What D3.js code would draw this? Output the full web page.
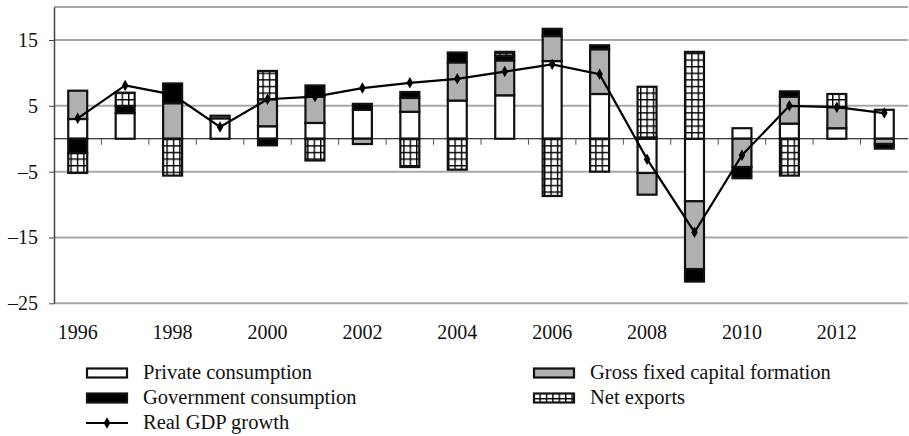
<!DOCTYPE html>
<html><head><meta charset="utf-8">
<script src="https://cdn.jsdelivr.net/npm/d3@7/dist/d3.min.js"></script>
<style>body{margin:0;background:#fff}svg{display:block}</style>
</head><body><svg id="c" width="909" height="436"></svg>
<script>
const years = [1996,1997,1998,1999,2000,2001,2002,2003,2004,2005,2006,2007,2008,2009,2010,2011,2012,2013];
const privateConsumption = [3.0,3.9,0,3.1,1.9,2.4,4.4,4.1,5.8,6.6,11.8,6.8,-5.2,-9.5,1.6,2.3,1.6,4.4];
const grossFixedCapital = [4.3,0,5.4,0.4,4.1,4.0,-0.8,2.1,5.8,5.3,3.8,6.8,-3.3,-10.3,-4.3,4.1,3.2,-0.8];
const governmentConsumption = [-2.2,1.1,3.0,0,-1.0,1.7,0.9,0.9,1.5,0.7,1.1,0.6,0.2,-1.9,-1.7,0.8,0,-0.7];
const netExports = [-3.0,2.0,-5.6,0,4.3,-3.3,0,-4.3,-4.7,0.6,-8.7,-5.0,7.7,13.2,0,-5.6,2.0,0];
const realGdpGrowth = [3.1,8.1,6.7,1.8,6.0,6.4,7.7,8.5,9.1,10.2,11.3,9.8,-3.1,-14.2,-2.5,5.0,4.8,3.9];
const yTicks = [-25,-15,-5,5,15];
const xLabelYears = [1996,1998,2000,2002,2004,2006,2008,2010,2012];
const seriesNames = ["Private consumption","Gross fixed capital formation","Government consumption","Net exports"];

const FONT = '"Liberation Serif"';
const svg = d3.select("#c");
const L = 54, R = 908, T = 7.1, B = 303.3;
const x = d3.scaleBand().domain(years).range([L, R]).paddingInner(0.6).paddingOuter(0.3);
const y = d3.scaleLinear().domain([-25, 20]).range([B, T]);

const defs = svg.append("defs");
const pat = defs.append("pattern").attr("id","hatch").attr("patternUnits","userSpaceOnUse")
  .attr("width",6.4).attr("height",6.6);
pat.append("rect").attr("width",6.4).attr("height",6.6).attr("fill","#fff");
pat.append("line").attr("x1",0.7).attr("x2",0.7).attr("y1",0).attr("y2",6.6).attr("stroke","#000").attr("stroke-width",1.4);
pat.append("line").attr("x1",0).attr("x2",6.4).attr("y1",0.7).attr("y2",0.7).attr("stroke","#000").attr("stroke-width",1.4);

const fills = ["#ffffff","#b0b0b0","#000000","url(#hatch)"];

// gridlines
svg.append("g").selectAll("line").data(yTicks.concat([20])).join("line")
  .attr("x1",L).attr("x2",R).attr("y1",d=>y(d)).attr("y2",d=>y(d))
  .attr("stroke","#a8a8a8").attr("stroke-width",2);

// y axis
const yAxis = svg.append("g").attr("transform",`translate(${L},0)`)
  .call(d3.axisLeft(y).tickValues(yTicks).tickSize(5).tickSizeOuter(0).tickFormat(d=>String(d).replace("-","\u2013")));
yAxis.attr("font-family",null).attr("font-size",null);
yAxis.select(".domain").attr("stroke","#444").attr("stroke-width",1.5);
yAxis.selectAll(".tick line").attr("stroke","#444");
yAxis.selectAll("text").attr("x",-16).style("font-family",FONT).style("font-size","20px").attr("fill","#111");

// zero line and category ticks
svg.append("line").attr("x1",L).attr("x2",R).attr("y1",y(0)).attr("y2",y(0)).attr("stroke","#000").attr("stroke-width",1.2);
const gap = x.step()*x.paddingInner()/2;
svg.append("g").selectAll("line").data(years.slice(1)).join("line")
  .attr("x1",d=>x(d)-gap).attr("x2",d=>x(d)-gap).attr("y1",y(0)).attr("y2",y(0)+6)
  .attr("stroke","#555").attr("stroke-width",1);

// stacked bars
const table = years.map((yr,i)=>({year:yr, s0:privateConsumption[i], s1:grossFixedCapital[i], s2:governmentConsumption[i], s3:netExports[i]}));
const stack = d3.stack().keys(["s0","s1","s2","s3"]).offset(d3.stackOffsetDiverging);
const stacked = stack(table);
svg.append("g").selectAll("g").data(stacked).join("g")
  .attr("fill",(d,i)=>fills[i])
  .selectAll("rect").data(d=>d.filter(p=>p[1]!==p[0])).join("rect")
  .attr("x",d=>x(d.data.year)).attr("width",x.bandwidth())
  .attr("y",d=>y(Math.max(d[0],d[1]))).attr("height",d=>Math.abs(y(d[0])-y(d[1])))
  .attr("stroke","#111").attr("stroke-width",2.2);

// GDP line
const line = d3.line().x((d,i)=>x(years[i])+x.bandwidth()/2).y(d=>y(d));
svg.append("path").datum(realGdpGrowth).attr("d",line).attr("fill","none").attr("stroke","#000").attr("stroke-width",2.2);
const sym = d3.symbol().type(d3.symbolDiamond).size(38);
svg.append("g").selectAll("path").data(realGdpGrowth).join("path")
  .attr("d",sym).attr("transform",(d,i)=>`translate(${x(years[i])+x.bandwidth()/2},${y(d)})`).attr("fill","#000");

// x labels
svg.append("g").selectAll("text").data(xLabelYears).join("text")
  .attr("x",d=>x(d)+x.bandwidth()/2).attr("y",339).attr("text-anchor","middle")
  .style("font-family",FONT).style("font-size","20px").attr("fill","#111").text(d=>d);

// legend
const leg = [
  {name:seriesNames[0], fill:fills[0], lx:86, ly:373, type:"rect"},
  {name:seriesNames[2], fill:fills[2], lx:86, ly:398, type:"rect"},
  {name:"Real GDP growth", lx:86, ly:423, type:"line"},
  {name:seriesNames[1], fill:fills[1], lx:533, ly:373, type:"rect"},
  {name:seriesNames[3], fill:fills[3], lx:533, ly:398, type:"rect"}
];
const lg = svg.append("g").selectAll("g").data(leg).join("g").attr("transform",d=>`translate(${d.lx},${d.ly})`);
lg.filter(d=>d.type==="rect").append("rect").attr("x",1).attr("y",-4.5).attr("width",40).attr("height",9)
  .attr("fill",d=>d.fill).attr("stroke","#111").attr("stroke-width",2.2);
lg.filter(d=>d.type==="line").append("line").attr("x1",0).attr("x2",42).attr("stroke","#000").attr("stroke-width",2.2);
lg.filter(d=>d.type==="line").append("path").attr("d",sym).attr("transform","translate(21,0)").attr("fill","#000");
lg.append("text").attr("x",57).attr("y",6).style("font-family",FONT).style("font-size","20.5px").attr("fill","#111").text(d=>d.name);
</script></body></html>
